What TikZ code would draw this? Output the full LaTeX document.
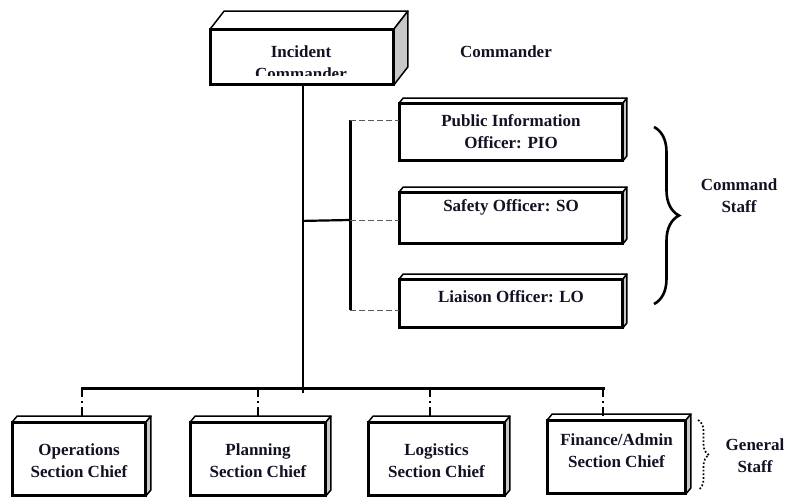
\documentclass[tikz,border=0pt]{standalone}
\usepackage{fontspec}
\setmainfont{Liberation Serif}
\usetikzlibrary{calc,decorations.pathreplacing}
\definecolor{ink}{RGB}{18,18,36}
\definecolor{sideface}{RGB}{200,200,200}
\begin{document}
\begin{tikzpicture}[x=1pt,y=-1pt,
  front/.style={draw=black, line width=1.8pt, fill=white, inner sep=0pt},
  facet/.style={draw=black, line width=1.5pt, line join=round},
  lbl/.style={font=\fontsize{17}{22}\selectfont\bfseries, align=center, text=ink, inner sep=0pt},
  trunk/.style={line width=2.2pt},
  bus/.style={line width=3pt},
  tie/.style={draw=black!65, line width=0.9pt, dash pattern=on 6pt off 3pt},
  drop/.style={line width=1.3pt, dash pattern=on 9pt off 4pt on 2pt off 4pt}]
\useasboundingbox (0,0) rectangle (786,498);

% box with a front face, a top face and a grey side face
\newcommand\solidbox[7]{%
  \node[front, minimum width=#4pt, minimum height=#5pt] (#1) at (#2,#3) {};
  \draw[facet, fill=white] (#1.north west) -- ++(#6,-#7) -- ($(#1.north east)+(#6,-#7)$) -- (#1.north east) -- cycle;
  \draw[facet, fill=sideface] (#1.north east) -- ++(#6,-#7) -- ($(#1.south east)+(#6,-#7)$) -- (#1.south east) -- cycle;
  \draw[line width=1.8pt] (#1.north west) rectangle (#1.south east);
}

% top of the chart
\solidbox{IC}{302}{57}{182}{54}{14}{18}
\begin{scope}
  \clip (IC.north west) rectangle ($(IC.south east)+(0,-9)$);
  \node[lbl] (ICt) at (301,63) {Incident\\Commander};
\end{scope}
\node[lbl] (cmdr) at (506,52) {Commander};

% command staff
\solidbox{PIO}{511}{132}{222}{56}{4}{5}
\solidbox{SO}{511}{218}{222}{50}{4}{5}
\solidbox{LO}{511}{303.5}{222}{47}{4}{5}
\node[lbl] (PIOt) at (511,132) {Public Information\\Officer: PIO};
\node[lbl] (SOt) at (511,207) {Safety Officer: SO};
\node[lbl] (LOt) at (511,297) {Liaison Officer: LO};

% general staff
\solidbox{OPS}{79}{459}{132}{72}{5}{6}
\solidbox{PLN}{258}{459}{134}{72}{5}{6}
\solidbox{LOG}{436.5}{459}{135}{72}{5}{6}
\solidbox{FIN}{616.5}{457}{137}{72}{5}{6}
\node[lbl] (OPSt) at (79,461) {Operations\\Section Chief};
\node[lbl] (PLNt) at (258,461) {Planning\\Section Chief};
\node[lbl] (LOGt) at (436.5,461) {Logistics\\Section Chief};
\node[lbl] (FINt) at (616.5,451) {Finance/Admin\\Section Chief};

% connector points
\coordinate (trunkTop) at ($(IC.south)+(1,0)$);
\coordinate (trunkEnd) at ($(IC.south)+(1,308)$);
\coordinate (join) at ($(IC.south)+(1,136)$);
\coordinate (spineT) at (350,120);
\coordinate (spineM) at (350,220);
\coordinate (spineB) at (350,310);
\coordinate (busL) at (82,388);
\coordinate (busP) at (258,388);
\coordinate (busG) at (430,388);
\coordinate (busR) at (603,388);

% solid lines
\draw[trunk] (trunkTop) -- (trunkEnd);
\draw[trunk] (join) -- (spineM);
\draw[bus] (spineT) -- (spineB);
\draw[bus, line cap=rect] (busL) -- (busR);

% dashed ties to the officers
\draw[tie] (spineT) -- (spineT -| PIO.west);
\draw[tie] (spineM) -- (spineM -| SO.west);
\draw[tie] (spineB) -- (spineB -| LO.west);

% drops to the section chiefs
\draw[drop] (busL) -- ($(busL |- OPS.north)+(0,-4)$);
\draw[drop] (busP) -- ($(busP |- PLN.north)+(0,-4)$);
\draw[drop] (busG) -- ($(busG |- LOG.north)+(0,-4)$);
\draw[drop] (busR) -- ($(busR |- FIN.north)+(0,-4)$);

% braces and group names
\coordinate (cbTop) at (654,127);
\coordinate (cbBot) at (654,304);
\draw[line width=2.6pt, decorate, decoration={brace, amplitude=25pt}] (cbTop) -- (cbBot);
\node[lbl] (cstaff) at (739,196) {Command\\Staff};
\coordinate (gbTop) at (698,420);
\coordinate (gbBot) at (698,490);
\draw[line width=1.7pt, dotted, decorate, decoration={brace, amplitude=11pt}] (gbTop) -- (gbBot);
\node[lbl] (gstaff) at (755,456) {General\\Staff};
\end{tikzpicture}
\end{document}
